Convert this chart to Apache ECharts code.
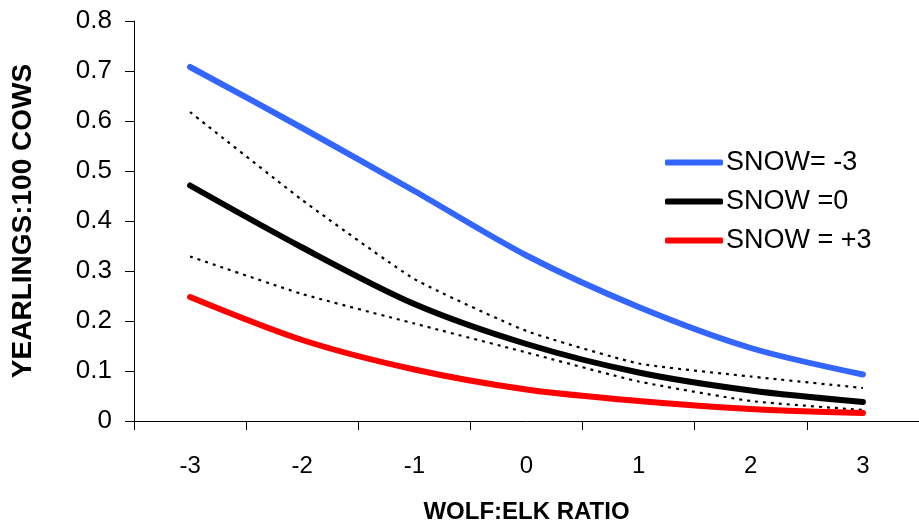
<!DOCTYPE html>
<html>
<head>
<meta charset="utf-8">
<script src="https://cdn.jsdelivr.net/npm/echarts@6/dist/echarts.min.js"></script>
<style>
  html, body { margin: 0; padding: 0; background: #fff; }
  #chart { width: 919px; height: 529px; }
</style>
</head>
<body>
<div id="chart"></div>
<script>
// data
const ratios = ['-3', '-2', '-1', '0', '1', '2', '3']
const snowMinus3 = [0.708, 0.586, 0.460, 0.331, 0.228, 0.146, 0.093]
const snowZero = [0.471, 0.347, 0.234, 0.154, 0.097, 0.061, 0.038]
const snowPlus3 = [0.248, 0.162, 0.103, 0.063, 0.040, 0.024, 0.016]
const upperBound = [0.618, 0.442, 0.284, 0.180, 0.115, 0.089, 0.066]
const lowerBound = [0.329, 0.254, 0.195, 0.137, 0.079, 0.040, 0.022]

const font = 'Arial, "Liberation Sans", sans-serif'

const chart = echarts.init(document.getElementById('chart'))

const mainLine = (name, data, color) => {
  return {
    name: name,
    type: 'line',
    data: data,
    smooth: 0.3,
    symbol: 'none',
    itemStyle: { color: color },
    lineStyle: { color: color, width: 6, cap: 'round', join: 'round' },
    z: 3
  }
}

const dottedLine = (name, data) => {
  return {
    name: name,
    type: 'line',
    data: data,
    smooth: 0.15,
    symbol: 'none',
    silent: true,
    lineStyle: { color: '#000', width: 2.2, type: [3, 5] },
    z: 2
  }
}

const option = {
  animation: false,
  backgroundColor: '#fff',
  grid: { left: 134, top: 21, width: 790, height: 404, containLabel: false },
  legend: {
    data: ['SNOW= -3', 'SNOW =0', 'SNOW = +3'],
    orient: 'vertical',
    left: 660,
    top: 144,
    icon: 'roundRect',
    itemWidth: 58,
    itemHeight: 6,
    itemGap: 12,
    textStyle: { fontFamily: font, fontSize: 27, color: '#000', padding: [0, 0, 0, -2] },
    selectedMode: false
  },
  xAxis: {
    type: 'category',
    data: ratios,
    boundaryGap: true,
    name: 'WOLF:ELK RATIO',
    nameLocation: 'middle',
    nameGap: 79,
    nameTextStyle: { fontFamily: font, fontSize: 24, fontWeight: 'bold', color: '#000' },
    axisLine: { lineStyle: { color: '#000', width: 1 } },
    axisTick: { show: true, length: 9, inside: false, alignWithLabel: false, lineStyle: { color: '#000' } },
    axisLabel: { fontFamily: font, fontSize: 24, color: '#000', margin: 33 },
    splitLine: { show: false }
  },
  yAxis: {
    type: 'value',
    min: 0,
    max: 0.8,
    interval: 0.1,
    name: 'YEARLINGS:100 COWS',
    nameLocation: 'middle',
    nameGap: 97,
    nameRotate: 90,
    nameTextStyle: { fontFamily: font, fontSize: 28, fontWeight: 'bold', color: '#000' },
    axisLine: { show: true, lineStyle: { color: '#000', width: 1 } },
    axisTick: { show: true, length: 9, lineStyle: { color: '#000' } },
    axisLabel: { fontFamily: font, fontSize: 26, color: '#000', margin: 22 },
    splitLine: { show: false }
  },
  series: [
    dottedLine('upper', upperBound),
    dottedLine('lower', lowerBound),
    mainLine('SNOW= -3', snowMinus3, '#3366FF'),
    mainLine('SNOW =0', snowZero, '#000000'),
    mainLine('SNOW = +3', snowPlus3, '#FF0000')
  ]
}

chart.setOption(option)
</script>
</body>
</html>
